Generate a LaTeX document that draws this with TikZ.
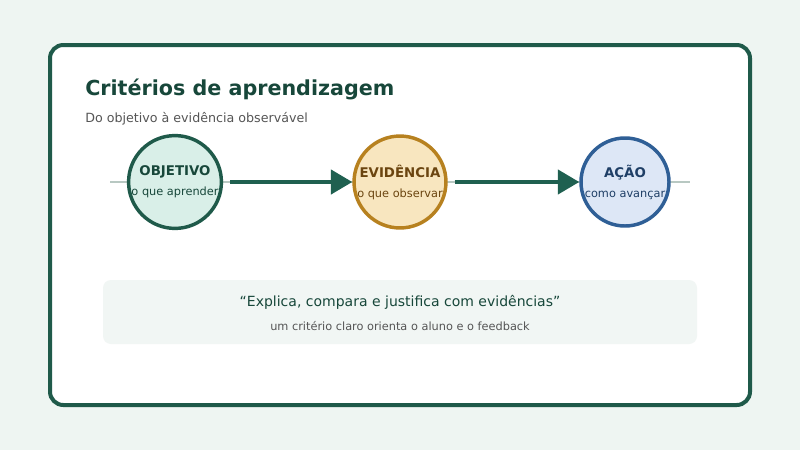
\documentclass[tikz,border=0pt]{standalone}
\usepackage{fontspec}
\setmainfont{DejaVu Sans}
\usetikzlibrary{arrows.meta}
\definecolor{bg}{HTML}{EEF5F2}
\definecolor{dg}{HTML}{1F5A4A}
\definecolor{tg}{HTML}{17473A}
\definecolor{ag}{HTML}{1F6050}
\definecolor{gl}{HTML}{B8C8C2}
\definecolor{f1}{HTML}{D9EFE8}
\definecolor{f2}{HTML}{F8E6BF}\definecolor{s2}{HTML}{B7811F}\definecolor{t2}{HTML}{6B4510}
\definecolor{f3}{HTML}{DDE7F6}\definecolor{s3}{HTML}{2F5F96}\definecolor{t3}{HTML}{1F3F66}
\definecolor{qb}{HTML}{F1F6F4}
\definecolor{gr}{HTML}{555555}
\begin{document}
\begin{tikzpicture}[x=0.75pt,y=-0.75pt,
 stage/.style={circle,minimum size=88*0.75pt,inner sep=0pt,line width=2.6pt,align=center},
 arr/.style={line width=3pt,draw=ag,-{Triangle[length=16pt,width=18pt]},shorten <=7*0.75pt}]
\useasboundingbox (0,0) rectangle (800,450);
\fill[bg] (0,0) rectangle (800,450);
\draw[dg,line width=3pt,fill=white,rounded corners=10pt] (50,45) rectangle (750,405);
\node[anchor=base west,font=\bfseries\fontsize{15.5}{18}\selectfont,text=tg,inner sep=0] (title) at (85,95) {Critérios de aprendizagem};
\node[anchor=base west,font=\fontsize{9.5}{12}\selectfont,text=gr,inner sep=0] (sub) at (85,122) {Do objetivo à evidência observável};
\draw[gl,line width=2.2pt] (110,182) -- (690,182);
\node[stage,draw=dg,fill=f1] (o) at (175,182) {\textcolor{tg}{\bfseries\fontsize{10}{12}\selectfont OBJETIVO}\\[3pt]\textcolor{tg}{\fontsize{8.5}{10}\selectfont o que aprender}};
\node[stage,draw=s2,fill=f2] (e) at (400,182) {\textcolor{t2}{\bfseries\fontsize{10}{12}\selectfont EVIDÊNCIA}\\[3pt]\textcolor{t2}{\fontsize{8.5}{10}\selectfont o que observar}};
\node[stage,draw=s3,fill=f3] (a) at (625,182) {\textcolor{t3}{\bfseries\fontsize{10}{12}\selectfont AÇÃO}\\[3pt]\textcolor{t3}{\fontsize{8.5}{10}\selectfont como avançar}};
\draw[arr] (o) -- (e);
\draw[arr] (e) -- (a);
\fill[qb,rounded corners=6pt] (103,280) rectangle (697,344);
\node[font=\fontsize{10.5}{13}\selectfont,text=tg] (q) at (400,302) {“Explica, compara e justifica com evidências”};
\node[font=\fontsize{8.5}{11}\selectfont,text=gr] (q2) at (400,326) {um critério claro orienta o aluno e o feedback};
\end{tikzpicture}
\end{document}
